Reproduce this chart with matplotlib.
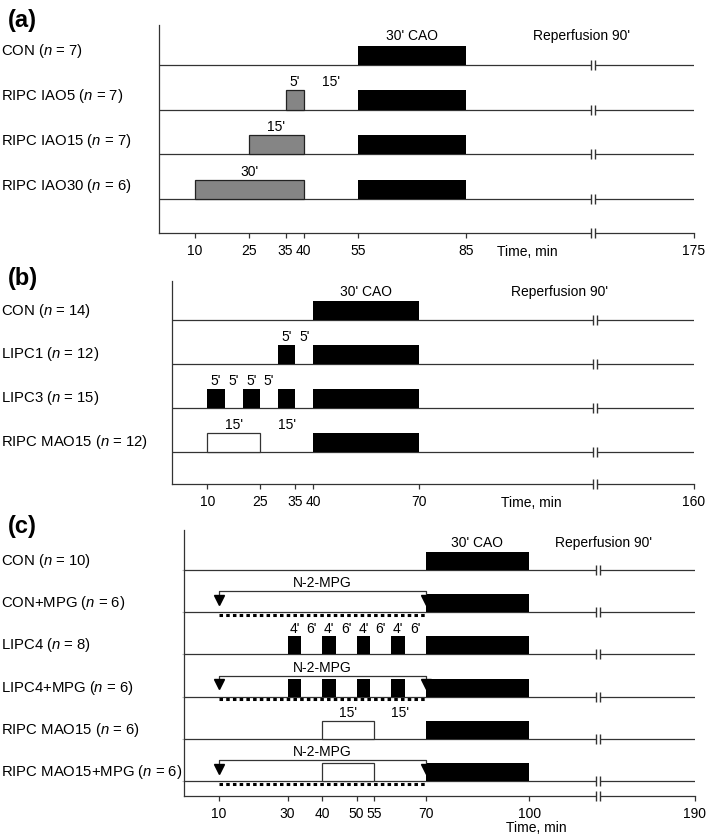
import numpy as np
import matplotlib
matplotlib.use("Agg")
import matplotlib.pyplot as plt
from matplotlib import transforms

plt.rcParams["font.family"] = ["Liberation Sans", "DejaVu Sans"]
plt.rcParams["mathtext.fontset"] = "custom"
plt.rcParams["mathtext.rm"] = "Liberation Sans"
plt.rcParams["mathtext.it"] = "Liberation Sans:italic"

W, H = 709, 837
LINE = "#333333"

# -------- DATA --------
BREAK_AT = 120
CAO_LABEL = "30' CAO"
REPERF_LABEL = "Reperfusion 90'"
MPG_LABEL = "N-2-MPG"

a_groups = ["CON", "RIPC IAO5", "RIPC IAO15", "RIPC IAO30"]
a_n = [7, 7, 7, 6]
a_cao = (55, 85)
a_gray = [[], [(35, 40)], [(25, 40)], [(10, 40)]]
a_notes = [[], [(37.5, "5'"), (47.5, "15'")], [(32.5, "15'")], [(25, "30'")]]
a_ticks = [10, 25, 35, 40, 55, 85, 175]

b_groups = ["CON", "LIPC1", "LIPC3", "RIPC MAO15"]
b_n = [14, 12, 15, 12]
b_cao = (40, 70)
b_black = [[], [(30, 35)], [(10, 15), (20, 25), (30, 35)], []]
b_white = [[], [], [], [(10, 25)]]
b_notes = [[], [(32.5, "5'"), (37.5, "5'")],
           [(12.5, "5'"), (17.5, "5'"), (22.5, "5'"), (27.5, "5'")],
           [(17.5, "15'"), (32.5, "15'")]]
b_ticks = [10, 25, 35, 40, 70, 160]

lipc4 = [(30, 34), (40, 44), (50, 54), (60, 64)]
c_groups = ["CON", "CON+MPG", "LIPC4", "LIPC4+MPG", "RIPC MAO15", "RIPC MAO15+MPG"]
c_n = [10, 6, 8, 6, 6, 6]
c_cao = (70, 100)
c_black = [[], [], lipc4, lipc4, [], []]
c_white = [[], [], [], [], [(40, 55)], [(40, 55)]]
c_mpg = [None, (10, 70), None, (10, 70), None, (10, 70)]
c_notes = [[], [],
           [(32, "4'"), (37, "6'"), (42, "4'"), (47, "6'"),
            (52, "4'"), (57, "6'"), (62, "4'"), (67, "6'")],
           [], [(47.5, "15'"), (62.5, "15'")], []]
c_ticks = [10, 30, 40, 50, 55, 70, 100, 190]

BH = 0.43  # bar height in row units


def broken_scale(end):
    k = 28.0 / (end - BREAK_AT)

    def fwd(x):
        x = np.asarray(x, dtype=float)
        return np.where(x <= BREAK_AT, x, BREAK_AT + (x - BREAK_AT) * k)

    def inv(y):
        y = np.asarray(y, dtype=float)
        return np.where(y <= BREAK_AT, y, BREAK_AT + (y - BREAK_AT) / k)

    return fwd, inv


def add_axes_px(fig, left, top, right, bottom):
    return fig.add_axes([left / W, 1 - bottom / H, (right - left) / W, (bottom - top) / H])


def draw_panel(fig, ax, groups, n, cao, ticks, ylim, label_off,
               gray=None, black=None, white=None, mpg=None, notes=None,
               reperf_x=117, time_below=False):
    end = ticks[-1]
    nrow = len(groups)
    bases = np.array([nrow - i for i in range(nrow)], dtype=float)

    ax.set_xscale("function", functions=broken_scale(end))
    ax.set_xlim(0, end)
    ax.set_ylim(*ylim)

    # baselines
    ax.hlines(bases, 0, end, color=LINE, lw=0.9, zorder=2)

    # coronary occlusion
    ax.barh(bases + BH / 2, cao[1] - cao[0], left=cao[0], height=BH,
            color="black", zorder=3)

    for i, b in enumerate(bases):
        if gray:
            for x0, x1 in gray[i]:
                ax.barh(b + BH / 2, x1 - x0, left=x0, height=BH, color="#858585",
                        edgecolor="#222222", lw=0.9, zorder=3)
        if black:
            for x0, x1 in black[i]:
                ax.barh(b + BH / 2, x1 - x0, left=x0, height=BH, color="black", zorder=3)
        if white:
            for x0, x1 in white[i]:
                ax.barh(b + BH / 2, x1 - x0, left=x0, height=BH, color="white",
                        edgecolor=LINE, lw=0.9, zorder=3)
        if notes:
            for x, s in notes[i]:
                ax.text(x, b + BH + 0.2, s, ha="center", va="center", fontsize=10)
        if mpg and mpg[i]:
            m0, m1 = mpg[i]
            top = b + 0.5
            tip = b + 0.29
            ax.plot([m0, m0, m1, m1], [tip, top, top, tip], color=LINE, lw=0.9, zorder=4)
            ax.plot([m0, m1], [tip, tip], ls="none", marker="v", ms=6.5,
                    color="black", zorder=5)
            ax.plot([m0, m1], [b - 0.065, b - 0.065], color="black", lw=2.2,
                    ls=(0, (1.15, 1.05)), dash_capstyle="butt", zorder=4)
            ax.text((m0 + m1) / 2, top + 0.21, MPG_LABEL, ha="center", va="center",
                    fontsize=10)

    # top row labels
    ax.text(sum(cao) / 2, bases[0] + BH + 0.23, CAO_LABEL, ha="center", va="center",
            fontsize=10)
    ax.text(reperf_x, bases[0] + BH + 0.23, REPERF_LABEL, ha="center", va="center",
            fontsize=10)

    # axis break marks
    ys = list(bases) + [ylim[0]]
    xs = [BREAK_AT] * len(ys)
    ax.plot(xs, ys, ls="none", marker="_", ms=2.8, mew=3, color="white",
            zorder=6, clip_on=False)
    for dx in (-2.0, 2.0):
        off = transforms.ScaledTranslation(dx / 100, 0, fig.dpi_scale_trans)
        ax.plot(xs, ys, ls="none", marker="|", ms=7.5, mew=1.0, color=LINE,
                zorder=7, clip_on=False, transform=ax.transData + off)

    # row labels
    trans = transforms.blended_transform_factory(fig.transFigure, ax.transData)
    for g, k, b in zip(groups, n, bases):
        ax.text(0.0015, b + label_off, f"{g} ($n$ = {k})", transform=trans,
                ha="left", va="center", fontsize=10.7, clip_on=False)

    # axes
    for side in ("top", "right"):
        ax.spines[side].set_visible(False)
    for side in ("left", "bottom"):
        ax.spines[side].set_color(LINE)
        ax.spines[side].set_linewidth(0.9)
    ax.set_xticks(ticks)
    ax.set_xticklabels([str(t) for t in ticks])
    ax.xaxis.set_minor_locator(matplotlib.ticker.NullLocator())
    ax.tick_params(axis="x", length=3.6, width=0.9, color=LINE, pad=3.5, labelsize=10)
    ax.set_yticks([])

    dy = -22.5 if time_below else -13
    ax.annotate("Time, min", xy=(102, ylim[0]), xycoords="data",
                xytext=(0, dy), textcoords="offset points", ha="center", va="center",
                fontsize=10, annotation_clip=False)
    return bases


fig = plt.figure(figsize=(W / 100, H / 100), dpi=100)

# -------- PANEL A --------
ax_a = add_axes_px(fig, 159, 26, 694, 234)
draw_panel(fig, ax_a, a_groups, a_n, a_cao, a_ticks, (0.24, 4.89), 0.32,
           gray=a_gray, notes=a_notes, reperf_x=117)

# -------- PANEL B --------
ax_b = add_axes_px(fig, 172, 282, 694, 485)
draw_panel(fig, ax_b, b_groups, b_n, b_cao, b_ticks, (0.27, 4.89), 0.24,
           black=b_black, white=b_white, notes=b_notes, reperf_x=110)

# -------- PANEL C --------
ax_c = add_axes_px(fig, 184, 531, 695, 797)
bases_c = draw_panel(fig, ax_c, c_groups, c_n, c_cao, c_ticks, (0.645, 6.95), 0.24,
                     black=c_black, white=c_white, mpg=c_mpg, notes=c_notes,
                     reperf_x=124, time_below=True)
ax_c.set_yticks(bases_c)
ax_c.tick_params(axis="y", length=1.5, width=0.8, color="#bbbbbb", labelleft=False)

for lab, y in (("(a)", 20), ("(b)", 279), ("(c)", 527)):
    fig.text(8 / W, 1 - y / H, lab, fontsize=17, fontweight="bold", va="center", ha="left")

fig.savefig("out.png", dpi=100)
